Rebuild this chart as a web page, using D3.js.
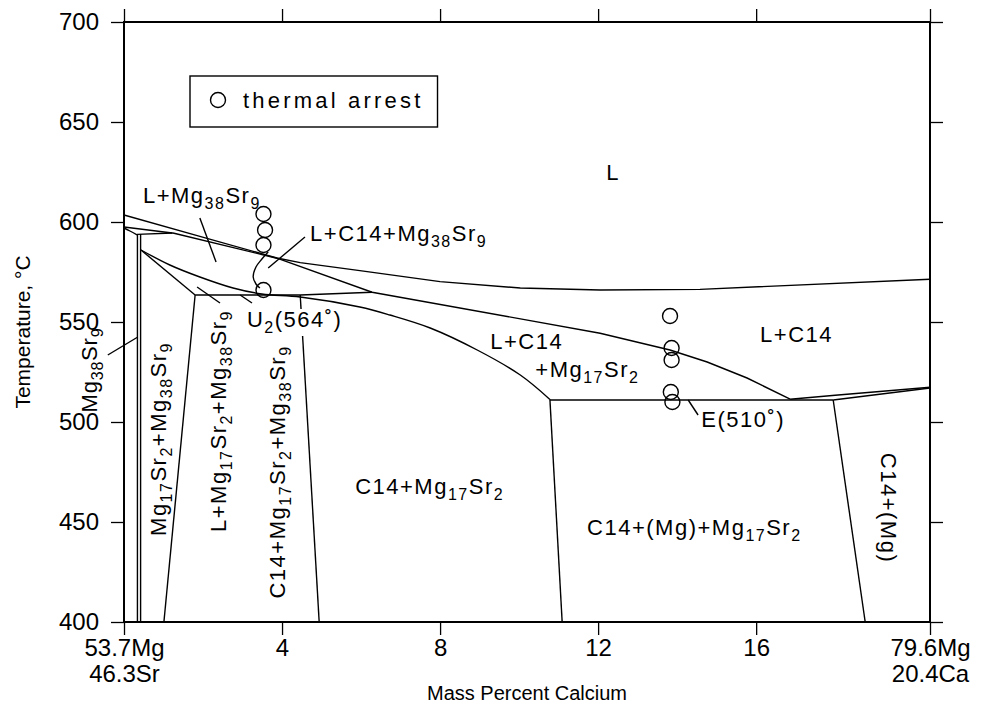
<!DOCTYPE html>
<html>
<head>
<meta charset="utf-8">
<script src="https://cdn.jsdelivr.net/npm/d3@7"></script>
<style>
body { margin: 0; background: #fff; }
svg { display: block; }
</style>
</head>
<body>
<script>
'use strict';

/******************************* Data *********************************/

var xTicks = [0, 4, 8, 12, 16, 20.4];
var xTickLabels = [["53.7Mg", "46.3Sr"], ["4"], ["8"], ["12"], ["16"], ["79.6Mg", "20.4Ca"]];
var yTicks = [400, 450, 500, 550, 600, 650, 700];

// phase boundaries as [mass % Ca, temperature in C]
var upperLiquidus = [[0, 603.5], [1.92, 592.8], [3.87, 582], [4.46, 579.7], [5.97, 575.7], [8.0, 570.2],
                     [10.03, 567], [12.05, 566], [14.58, 566.3], [20.4, 571.4]];
var c14Boundary = [[1.24, 594.5], [3.87, 581.9], [6.28, 564.9], [12.05, 544.4], [13.82, 536],
                   [14.76, 530], [15.77, 522], [16.86, 511.4]];
var u2Line = [[1.80, 563.5], [4.46, 563.5], [6.28, 564.9]];
var mg38Curve = [[0.43, 586], [1.16, 578.5], [1.92, 572.5], [2.76, 567], [3.49, 564], [4.46, 562.5],
                 [5.97, 557.5], [6.73, 553.5], [7.75, 547], [8.94, 536], [10.03, 523.5], [10.78, 511.3]];
var mg38Tie = [[0.43, 586], [1.80, 563.5]];
var peritecticTop = [[0, 597.5], [1.22, 594.5]];
var peritecticCurve = [[0, 597], [0.15, 595.5], [0.33, 593.6]];
var peritecticFlat = [[0.33, 593.8], [1.24, 594.5]];
var compoundLeft = [[0.34, 594], [0.34, 400]];
var compoundRight = [[0.42, 594], [0.42, 400]];
var tie1 = [[1.80, 563.5], [1.01, 400]];
var tie2 = [[4.46, 563.5], [4.94, 400]];
var tie3 = [[10.78, 511.3], [11.09, 400]];
var tie4 = [[17.95, 511], [18.76, 400]];
var eutecticLine = [[10.78, 511], [17.95, 511]];
var mgLiquidus = [[16.86, 511.4], [18.0, 513.4], [20.4, 517.4]];
var mgSolidus = [[17.95, 511], [20.4, 517]];
var arrestCurve = [[3.65, 585], [3.49, 581.5], [3.34, 577.5], [3.27, 572.5], [3.34, 569], [3.44, 567]];

// thermal arrests
var arrestCa = [3.53, 3.57, 3.53, 3.53, 13.82, 13.86, 13.86, 13.84, 13.88];
var arrestT = [604, 596, 588.5, 566, 553, 537, 531, 515, 510];

/****************************** Layout ********************************/

var width = 983, height = 706;
var plotLeft = 124, plotRight = 930, plotTop = 22, plotBottom = 622;
var labelFont = "'Liberation Sans', Arial, sans-serif";

var svg = d3.select("body").append("svg")
  .attr("width", width).attr("height", height)
  .style("font-family", labelFont);

var x = d3.scaleLinear().domain([0, 20.4]).range([plotLeft, plotRight]);
var y = d3.scaleLinear().domain([400, 700]).range([plotBottom, plotTop]);

var line = d3.line().x(function(d) { return x(d[0]); }).y(function(d) { return y(d[1]); });
var curve = d3.line().curve(d3.curveCatmullRom.alpha(0.5))
  .x(function(d) { return x(d[0]); }).y(function(d) { return y(d[1]); });

/******************************* Axes *********************************/

var axisB = svg.append("g").attr("transform", "translate(0," + plotBottom + ")")
  .call(d3.axisBottom(x).tickValues(xTicks).tickSize(13).tickPadding(4)
    .tickFormat(function(d, i) { return xTickLabels[i][0]; }));
axisB.selectAll(".tick text").each(function(d, i) {
  if (xTickLabels[i].length > 1) {
    d3.select(this).append("tspan").attr("x", 0).attr("dy", "1.1em").text(xTickLabels[i][1]);
  }
});
svg.append("g").attr("transform", "translate(0," + plotTop + ")")
  .call(d3.axisTop(x).tickValues(xTicks).tickSize(13).tickFormat(""));
svg.append("g").attr("transform", "translate(" + plotLeft + ",0)")
  .call(d3.axisLeft(y).tickValues(yTicks).tickSize(13).tickPadding(12));
svg.append("g").attr("transform", "translate(" + plotRight + ",0)")
  .call(d3.axisRight(y).tickValues(yTicks).tickSize(13).tickFormat(""));

svg.selectAll(".domain").remove();
svg.selectAll(".tick line").attr("stroke", "#000").attr("stroke-width", 1.3);
svg.selectAll(".tick text").attr("fill", "#000").style("font-size", "24px").style("font-family", labelFont);

svg.append("rect")
  .attr("x", plotLeft).attr("y", plotTop).attr("width", plotRight - plotLeft).attr("height", plotBottom - plotTop)
  .attr("fill", "none").attr("stroke", "#000").attr("stroke-width", 2);

svg.append("text").attr("x", (plotLeft + plotRight) / 2).attr("y", 700)
  .attr("text-anchor", "middle").style("font-size", "20px").text("Mass Percent Calcium");
svg.append("text").attr("transform", "translate(30,332) rotate(-90)")
  .attr("text-anchor", "middle").style("font-size", "21px").text("Temperature, \u00b0C");

/*************************** Phase boundaries *************************/

var plot = svg.append("g").attr("fill", "none").attr("stroke", "#000").attr("stroke-width", 1.4);

[upperLiquidus, c14Boundary, u2Line, mg38Tie, peritecticTop, peritecticFlat,
 compoundLeft, compoundRight, tie1, tie2, tie3, tie4, eutecticLine, mgLiquidus, mgSolidus]
  .forEach(function(seg) { plot.append("path").attr("d", line(seg)); });

[mg38Curve, peritecticCurve, arrestCurve]
  .forEach(function(seg) { plot.append("path").attr("d", curve(seg)); });

plot.selectAll("circle.arrest").data(arrestCa).enter().append("circle")
  .attr("class", "arrest")
  .attr("cx", function(d) { return x(d); })
  .attr("cy", function(d, i) { return y(arrestT[i]); })
  .attr("r", 7.5);

/****************************** Labels ********************************/

var labels = [
  {t: "L", x: 12.38, y: 621, a: "middle"},
  {t: "L+Mg_38Sr_9", x: 0.48, y: 609.5},
  {t: "L+C14+Mg_38Sr_9", x: 4.71, y: 590.5},
  {t: "U_2(564\u02da)", x: 3.11, y: 547.5, bg: true},
  {t: "L+C14", x: 9.27, y: 536.5},
  {t: "+Mg_17Sr_2", x: 10.41, y: 522.5},
  {t: "L+C14", x: 16.10, y: 540},
  {t: "E(510\u02da)", x: 14.61, y: 497.5},
  {t: "C14+Mg_17Sr_2", x: 5.85, y: 464},
  {t: "C14+(Mg)+Mg_17Sr_2", x: 11.72, y: 443.5},
  {t: "C14+(Mg)", x: 19.16, y: 457, a: "middle", r: 90},
  {t: "Mg_17Sr_2+Mg_38Sr_9", x: 1.06, y: 491.5, a: "middle", r: -90},
  {t: "L+Mg_17Sr_2+Mg_38Sr_9", x: 2.58, y: 500.5, a: "middle", r: -90},
  {t: "C14+Mg_17Sr_2+Mg_38Sr_9", x: 4.08, y: 475, a: "middle", r: -90},
  {t: "Mg_38Sr_9", x: -0.68, y: 526, a: "middle", r: -90, ls: "0.8px"}
];

var leaders = [
  [[1.92, 602], [2.33, 580]],
  [[4.58, 592.5], [3.65, 577]],
  [[2.94, 563.5], [3.24, 559.5]],
  [[1.85, 567.5], [2.43, 559.5]],
  [[14.28, 511], [14.53, 503.5]],
  [[-0.41, 533.5], [0.35, 542.5]]
];

function writeLabel(g, str) {
  var parts = str.split(/(_\d+)/);
  var shifted = false;
  parts.forEach(function(p) {
    if (!p) return;
    if (p.charAt(0) === "_") {
      g.append("tspan").attr("dy", 6).style("font-size", "16px").text(p.slice(1));
      shifted = true;
    } else {
      g.append("tspan").attr("dy", shifted ? -6 : 0).text(p);
      shifted = false;
    }
  });
}

var labelLayer = svg.append("g").style("font-size", "22px").style("letter-spacing", "1.5px");

labels.forEach(function(l) {
  var t = labelLayer.append("text")
    .attr("text-anchor", l.a || "start")
    .attr("transform", "translate(" + x(l.x) + "," + y(l.y) + ")" + (l.r ? " rotate(" + l.r + ")" : ""));
  if (l.ls) t.style("letter-spacing", l.ls);
  writeLabel(t, l.t);
  if (l.bg) {
    var b = t.node().getBBox();
    labelLayer.insert("rect", function() { return t.node(); })
      .attr("x", x(l.x) + b.x - 2).attr("y", y(l.y) + b.y + 2)
      .attr("width", b.width + 4).attr("height", b.height - 2)
      .attr("fill", "#fff");
  }
});

leaders.forEach(function(seg) {
  svg.append("path").attr("d", line(seg)).attr("stroke", "#000").attr("stroke-width", 1.4).attr("fill", "none");
});

/****************************** Legend ********************************/

var legend = svg.append("g");
var legendText = legend.append("text").attr("x", 243).attr("y", 108)
  .style("font-size", "22px").style("letter-spacing", "3.2px").text("thermal arrest");
var lw = legendText.node().getBBox().width;
legend.insert("rect", "text").attr("x", 190).attr("y", 76).attr("width", 243 - 190 + lw + 14).attr("height", 51)
  .attr("fill", "#fff").attr("stroke", "#000").attr("stroke-width", 1.4);
legend.append("circle").attr("cx", 218).attr("cy", 100).attr("r", 7.5)
  .attr("fill", "none").attr("stroke", "#000").attr("stroke-width", 1.4);
</script>
</body>
</html>
